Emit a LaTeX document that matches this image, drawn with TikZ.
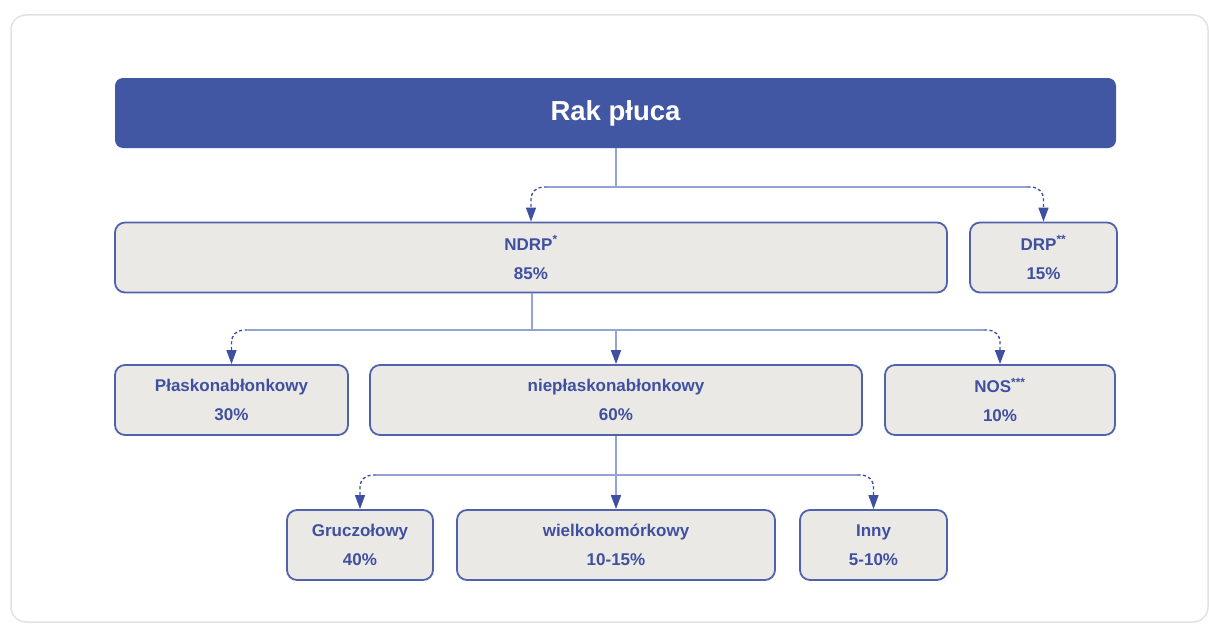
\documentclass[tikz,border=0pt]{standalone}
\usepackage{fontspec}
\setmainfont{Liberation Sans}
\usepackage{tikz}
\usetikzlibrary{arrows.meta}
\usetikzlibrary{calc}

\definecolor{rakblue}{HTML}{4257A3}
\definecolor{boxblue}{HTML}{5062AC}
\definecolor{txtblue}{HTML}{3F50A0}
\definecolor{boxgray}{HTML}{EBE9E6}
\definecolor{busblue}{HTML}{95A2D6}
\definecolor{framegray}{HTML}{E2E2E2}

\tikzset{
  box/.style={draw=boxblue, line width=1.8pt, fill=boxgray, rounded corners=10pt,
              text=txtblue, font=\bfseries\fontsize{17}{29}\selectfont,
              align=center, inner sep=0pt, minimum height=70pt},
  bus/.style={draw=busblue, line width=1.6pt},
  sidelink/.style={draw=txtblue, line width=1.4pt, dash pattern=on 3pt off 2.5pt,
               rounded corners=12pt, -{Triangle[width=10pt,length=14pt]}},
  drop/.style={draw=busblue, line width=1.6pt,
               -{Triangle[width=10pt,length=14pt,color=txtblue]}},
}

\begin{document}
\begin{tikzpicture}[x=1pt, y=-1pt]
\useasboundingbox (0,0) rectangle (1209,626);

\draw[framegray, line width=1.5pt, rounded corners=15pt] (11,15) rectangle (1208,622);

\node[fill=rakblue, rounded corners=8pt, minimum width=1001pt, minimum height=70pt,
      text=white, font=\bfseries\fontsize{27.5}{30}\selectfont] (rak) at (615.5,113) {Rak płuca};

\node[box, minimum width=832pt] (ndrp) at (531,257.5) {NDRP\textsuperscript{*}\\85\%};
\node[box, minimum width=147pt] (drp) at (1043.5,257.5) {DRP\textsuperscript{**}\\15\%};

\node[box, minimum width=233pt] (plask) at (231.5,400) {Płaskonabłonkowy\\30\%};
\node[box, minimum width=492pt] (niepl) at (616,400) {niepłaskonabłonkowy\\60\%};
\node[box, minimum width=230pt] (nos) at (1000,400) {NOS\textsuperscript{***}\\10\%};

\node[box, minimum width=146pt] (gruc) at (360,545) {Gruczołowy\\40\%};
\node[box, minimum width=318pt] (wielk) at (616,545) {wielkokomórkowy\\10-15\%};
\node[box, minimum width=147pt] (inny) at (873.5,545) {Inny\\5-10\%};

\coordinate (j1) at (616,187);
\coordinate (j2) at (532,330);
\coordinate (j3) at (616,475);

\draw[bus] (rak.south -| j1) -- (j1);
\draw[bus] ($(ndrp.north |- j1)+(16,0)$) -- ($(drp.north |- j1)+(-16,0)$);
\draw[sidelink] ($(ndrp.north |- j1)+(16,0)$) -| (ndrp.north);
\draw[sidelink] ($(drp.north |- j1)+(-16,0)$) -| (drp.north);

\draw[bus] (ndrp.south -| j2) -- (j2);
\draw[bus] ($(plask.north |- j2)+(16,0)$) -- ($(nos.north |- j2)+(-16,0)$);
\draw[sidelink] ($(plask.north |- j2)+(16,0)$) -| (plask.north);
\draw[drop] (niepl.north |- j2) -- (niepl.north);
\draw[sidelink] ($(nos.north |- j2)+(-16,0)$) -| (nos.north);

\draw[bus] (niepl.south) -- (niepl.south |- j3);
\draw[bus] ($(gruc.north |- j3)+(16,0)$) -- ($(inny.north |- j3)+(-16,0)$);
\draw[sidelink] ($(gruc.north |- j3)+(16,0)$) -| (gruc.north);
\draw[drop] (wielk.north |- j3) -- (wielk.north);
\draw[sidelink] ($(inny.north |- j3)+(-16,0)$) -| (inny.north);
\end{tikzpicture}
\end{document}
